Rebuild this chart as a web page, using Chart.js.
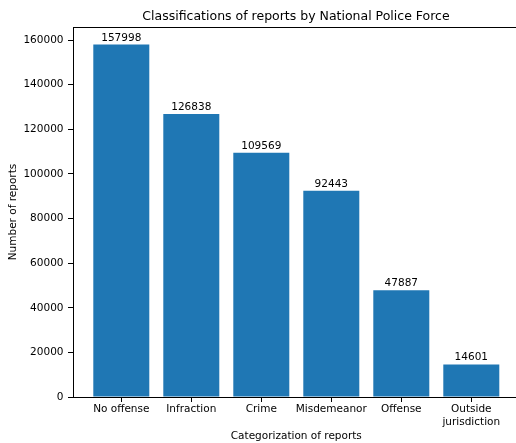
<!DOCTYPE html>
<html>
<head>
<meta charset="utf-8">
<script src="https://cdn.jsdelivr.net/npm/chart.js@4"></script>
<style>
  html, body { margin: 0; padding: 0; background: #fff; overflow: hidden; }
  canvas { display: block; }
</style>
</head>
<body>
<canvas id="c" width="592" height="443" style="width:592px;height:443px"></canvas>
<script>
const categories = ['No offense', 'Infraction', 'Crime', 'Misdemeanor', 'Offense', ['Outside', 'jurisdiction']];
const reportCounts = [157998, 126838, 109569, 92443, 47887, 14601];
const yTicks = [0, 20000, 40000, 60000, 80000, 100000, 120000, 140000, 160000];

const FONT = "'DejaVu Sans', sans-serif";
const INK = '#000';
Chart.defaults.font.family = FONT;
Chart.defaults.color = INK;

const barLabels = {
  id: 'barLabels',
  afterDatasetsDraw(chart) {
    const ctx = chart.ctx;
    const meta = chart.getDatasetMeta(0);
    ctx.save();
    ctx.font = "10.5px " + FONT;
    ctx.fillStyle = INK;
    ctx.textAlign = 'center';
    ctx.textBaseline = 'alphabetic';
    meta.data.forEach((el, i) => {
      ctx.fillText(String(reportCounts[i]), el.x, el.y - 4);
    });
    ctx.restore();
  }
};

const topSpine = {
  id: 'topSpine',
  afterDraw(chart) {
    const a = chart.chartArea;
    const ctx = chart.ctx;
    ctx.save();
    ctx.strokeStyle = INK;
    ctx.lineWidth = 1;
    ctx.beginPath();
    ctx.moveTo(a.left, a.top + 0.5);
    ctx.lineTo(a.right, a.top + 0.5);
    ctx.stroke();
    ctx.restore();
  }
};

new Chart(document.getElementById('c'), {
  type: 'bar',
  data: {
    datasets: [{
      data: reportCounts.map((v, i) => ({ x: i, y: v })),
      backgroundColor: '#1f77b4',
      borderWidth: 0,
      barPercentage: 0.8,
      categoryPercentage: 1.0
    }]
  },
  options: {
    responsive: false,
    animation: false,
    devicePixelRatio: 1,
    layout: { padding: 0 },
    plugins: {
      legend: { display: false },
      tooltip: { enabled: false },
      title: {
        display: true,
        text: 'Classifications of reports by National Police Force',
        font: { size: 12.5, weight: 'normal', family: FONT },
        color: INK,
        padding: { top: 9, bottom: 3 }
      }
    },
    scales: {
      x: {
        type: 'linear',
        offset: false,
        min: -0.69,
        max: 5.69,
        afterBuildTicks: s => { s.ticks = categories.map((_, i) => ({ value: i })); },
        afterFit: s => { s.height = 46; },
        ticks: {
          callback: v => categories[v],
          font: { size: 10.5 },
          color: INK,
          padding: 1,
          maxRotation: 0,
          autoSkip: false
        },
        grid: { offset: false, drawOnChartArea: false, drawTicks: true, tickLength: 5, color: INK },
        border: { display: true, color: INK, width: 1 },
        title: {
          display: true,
          text: 'Categorization of reports',
          font: { size: 10.5 },
          color: INK,
          padding: { top: 0, bottom: 0 }
        }
      },
      y: {
        type: 'linear',
        position: 'left',
        min: 0,
        max: 165898,
        afterBuildTicks: s => { s.ticks = yTicks.map(v => ({ value: v })); },
        afterFit: s => { s.width = 73; },
        ticks: {
          font: { size: 10.5 },
          color: INK,
          padding: 4.5,
          callback: v => String(v)
        },
        grid: { drawOnChartArea: false, drawTicks: true, tickLength: 5, color: INK },
        border: { display: true, color: INK, width: 1 },
        title: {
          display: true,
          text: 'Number of reports',
          font: { size: 10.5 },
          color: INK,
          padding: { top: 7, bottom: 0 }
        }
      },
      yR: {
        type: 'linear',
        position: 'right',
        display: true,
        afterFit: s => { s.width = 72.4; },
        ticks: { display: false },
        grid: { display: false },
        border: { display: false }
      }
    }
  },
  plugins: [barLabels, topSpine]
});
</script>
</body>
</html>
